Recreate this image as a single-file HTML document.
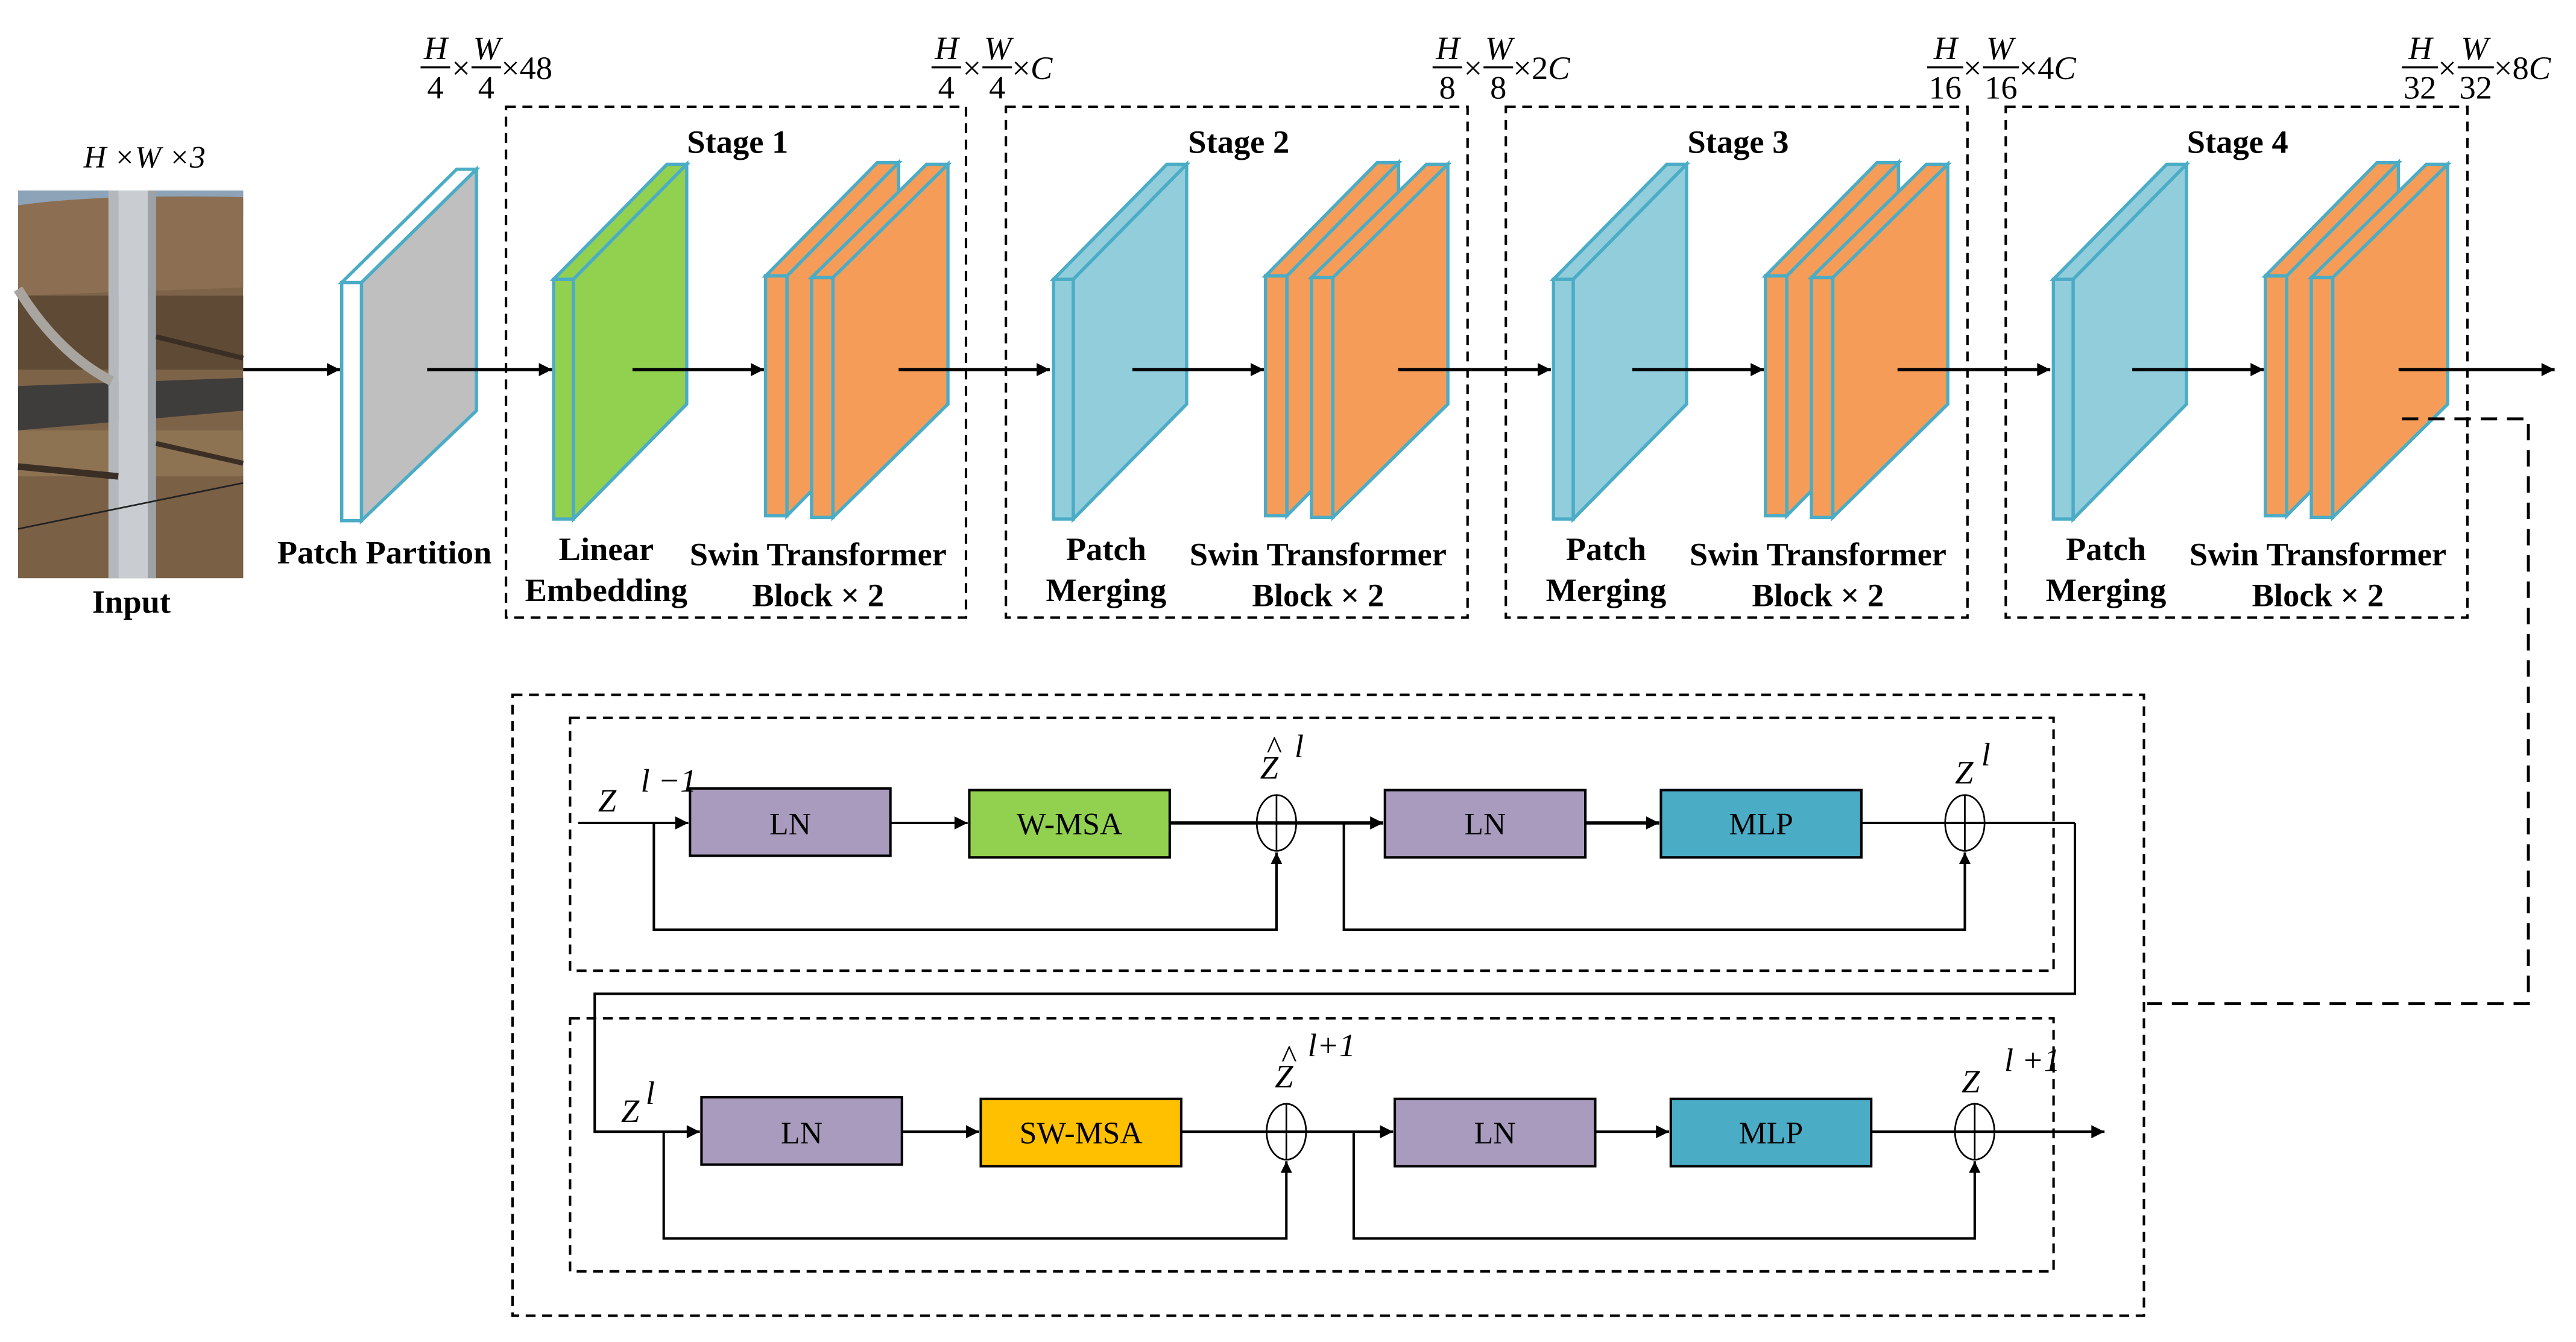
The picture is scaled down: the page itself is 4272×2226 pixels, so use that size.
<!DOCTYPE html>
<html><head><meta charset="utf-8"><style>
html,body{margin:0;padding:0;background:#fff}
svg{display:block}
svg text{font-family:"Liberation Serif","DejaVu Serif",serif}
.b{font-weight:bold;font-size:20px;fill:#000}
.r{font-size:19px;fill:#000}
.i{font-style:italic;font-size:19px;fill:#000}
.f{font-size:20px;fill:#000}
.fi{font-size:20px;font-style:italic;fill:#000}
</style></head><body>
<svg width="4272" height="2226" viewBox="0 0 1568 817" xmlns="http://www.w3.org/2000/svg" font-family="Liberation Serif, DejaVu Serif, serif">
<defs>
<marker id="a" viewBox="0 0 10 10" refX="10" refY="5" markerWidth="10" markerHeight="8" markerUnits="userSpaceOnUse" orient="auto"><path d="M0,0L10,5L0,10z" fill="#000"/></marker>
<marker id="s" viewBox="0 0 10 10" refX="10" refY="5" markerWidth="9" markerHeight="7" markerUnits="userSpaceOnUse" orient="auto"><path d="M0,0L10,5L0,10z" fill="#000"/></marker>
</defs>
<rect width="1568" height="817" fill="#fff"/>

<!-- Input photo -->
<g>
<rect x="11" y="116" width="137" height="236" fill="#7d6448"/>
<rect x="11" y="116" width="137" height="16" fill="#8da3b8"/>
<path d="M11,125 Q60,118 148,120 L148,175 L11,180z" fill="#8c6f52"/>
<rect x="11" y="180" width="137" height="45" fill="#5e4a35"/>
<path d="M11,235 L148,230 L148,250 L11,262z" fill="#3f3d3c"/>
<rect x="11" y="262" width="137" height="90" fill="#8d7352"/>
<rect x="11" y="290" width="137" height="62" fill="#7a6045"/>
<rect x="72" y="116" width="18" height="236" fill="#c9cdd1"/>
<rect x="66" y="116" width="6" height="236" fill="#b4b8bc"/>
<rect x="90" y="116" width="5" height="236" fill="#9da2a6"/>
<path d="M11,176 Q35,215 68,232" stroke="#a8a49f" stroke-width="6" fill="none"/>
<path d="M95,205 L148,218" stroke="#3a2e25" stroke-width="3" fill="none"/>
<path d="M11,284 L72,290" stroke="#3a2e25" stroke-width="4" fill="none"/>
<path d="M95,270 L148,282" stroke="#3a2e25" stroke-width="3" fill="none"/>
<path d="M11,322 L148,294" stroke="#222" stroke-width="1" fill="none"/>
</g>
<text class="i" x="88" y="102" text-anchor="middle">H ×W ×3</text>
<text class="b" x="80" y="373" text-anchor="middle">Input</text>

<!-- Patch partition -->
<polygon points="220,172 290,103 290,250 220,317" fill="#bfbfbf" stroke="#4bacc6" stroke-width="2"/>
<polygon points="208,172 278,103 290,103 220,172" fill="#fff" stroke="#4bacc6" stroke-width="2"/>
<rect x="208" y="172" width="12" height="145" fill="#fff" stroke="#4bacc6" stroke-width="2"/>
<text class="b" x="234" y="343" text-anchor="middle">Patch Partition</text>

<line x1="148" y1="225" x2="207" y2="225" stroke="#000" stroke-width="2" marker-end="url(#a)"/>
<line x1="260" y1="225" x2="336" y2="225" stroke="#000" stroke-width="2" marker-end="url(#a)"/>

<!-- dimension labels -->
<g>
<text class="fi" x="258" y="36">H</text><line x1="256" y1="41" x2="274" y2="41" stroke="#000" stroke-width="1.2"/><text class="f" x="260" y="60">4</text>
<text class="f" x="275" y="48">×</text>
<text class="fi" x="288" y="36">W</text><line x1="287" y1="41" x2="305" y2="41" stroke="#000" stroke-width="1.2"/><text class="f" x="291" y="60">4</text>
<text class="f" x="305" y="48">×48</text>
</g>
<g transform="translate(311,0)">
<text class="fi" x="258" y="36">H</text><line x1="256" y1="41" x2="274" y2="41" stroke="#000" stroke-width="1.2"/><text class="f" x="260" y="60">4</text>
<text class="f" x="275" y="48">×</text>
<text class="fi" x="288" y="36">W</text><line x1="287" y1="41" x2="305" y2="41" stroke="#000" stroke-width="1.2"/><text class="f" x="291" y="60">4</text>
<text class="f" x="305" y="48">×<tspan font-style="italic">C</tspan></text>
</g>
<g transform="translate(616,0)">
<text class="fi" x="258" y="36">H</text><line x1="256" y1="41" x2="274" y2="41" stroke="#000" stroke-width="1.2"/><text class="f" x="260" y="60">8</text>
<text class="f" x="275" y="48">×</text>
<text class="fi" x="288" y="36">W</text><line x1="287" y1="41" x2="305" y2="41" stroke="#000" stroke-width="1.2"/><text class="f" x="291" y="60">8</text>
<text class="f" x="305" y="48">×2<tspan font-style="italic">C</tspan></text>
</g>
<g transform="translate(917,0)">
<text class="fi" x="260" y="36">H</text><line x1="256" y1="41" x2="278" y2="41" stroke="#000" stroke-width="1.2"/><text class="f" x="257" y="60">16</text>
<text class="f" x="278" y="48">×</text>
<text class="fi" x="292" y="36">W</text><line x1="290" y1="41" x2="312" y2="41" stroke="#000" stroke-width="1.2"/><text class="f" x="291" y="60">16</text>
<text class="f" x="312" y="48">×4<tspan font-style="italic">C</tspan></text>
</g>
<g transform="translate(1206,0)">
<text class="fi" x="260" y="36">H</text><line x1="256" y1="41" x2="278" y2="41" stroke="#000" stroke-width="1.2"/><text class="f" x="257" y="60">32</text>
<text class="f" x="278" y="48">×</text>
<text class="fi" x="292" y="36">W</text><line x1="290" y1="41" x2="312" y2="41" stroke="#000" stroke-width="1.2"/><text class="f" x="291" y="60">32</text>
<text class="f" x="312" y="48">×8<tspan font-style="italic">C</tspan></text>
</g>

<!-- Stage 1 -->
<g>
<rect x="308" y="65" width="280" height="311" fill="none" stroke="#000" stroke-width="1.5" stroke-dasharray="6,4"/>
<text class="b" x="449" y="93" text-anchor="middle">Stage 1</text>
<polygon points="349,170 418,100 418,246 349,316" fill="#92d050" stroke="#4bacc6" stroke-width="2"/>
<polygon points="337,170 406,100 418,100 349,170" fill="#92d050" stroke="#4bacc6" stroke-width="2"/>
<rect x="337" y="170" width="12" height="146" fill="#92d050" stroke="#4bacc6" stroke-width="2"/>
<text class="b" x="369" y="341" text-anchor="middle">Linear</text>
<text class="b" x="369" y="366" text-anchor="middle">Embedding</text>
</g>
<g id="or">
<polygon points="479,168 547,99 547,245 479,314" fill="#f59d58" stroke="#4bacc6" stroke-width="2"/>
<polygon points="466,168 534,99 547,99 479,168" fill="#f59d58" stroke="#4bacc6" stroke-width="2"/>
<rect x="466" y="168" width="13" height="146" fill="#f59d58" stroke="#4bacc6" stroke-width="2"/>
<polygon points="507,169 577,100 577,246 507,315" fill="#f59d58" stroke="#4bacc6" stroke-width="2"/>
<polygon points="494,169 564,100 577,100 507,169" fill="#f59d58" stroke="#4bacc6" stroke-width="2"/>
<rect x="494" y="169" width="13" height="146" fill="#f59d58" stroke="#4bacc6" stroke-width="2"/>
<text class="b" x="498" y="344" text-anchor="middle">Swin Transformer</text>
<text class="b" x="498" y="369" text-anchor="middle">Block × 2</text>
<line x1="385" y1="225" x2="465" y2="225" stroke="#000" stroke-width="2" marker-end="url(#a)"/>
</g>
<line x1="547" y1="225" x2="639" y2="225" stroke="#000" stroke-width="2" marker-end="url(#a)"/>

<g id="st2" transform="translate(304.3,0)">
<rect x="308" y="65" width="281" height="311" fill="none" stroke="#000" stroke-width="1.5" stroke-dasharray="6,4"/>
<polygon points="349,170 418,100 418,246 349,316" fill="#92cddc" stroke="#4bacc6" stroke-width="2"/>
<polygon points="337,170 406,100 418,100 349,170" fill="#92cddc" stroke="#4bacc6" stroke-width="2"/>
<rect x="337" y="170" width="12" height="146" fill="#92cddc" stroke="#4bacc6" stroke-width="2"/>
<text class="b" x="369" y="341" text-anchor="middle">Patch</text>
<text class="b" x="369" y="366" text-anchor="middle">Merging</text>
<use href="#or"/>
</g>
<text class="b" x="754" y="93" text-anchor="middle">Stage 2</text>
<line x1="851" y1="225" x2="944" y2="225" stroke="#000" stroke-width="2" marker-end="url(#a)"/>
<use href="#st2" transform="translate(304.3,0)"/>
<text class="b" x="1058" y="93" text-anchor="middle">Stage 3</text>
<line x1="1155" y1="225" x2="1248" y2="225" stroke="#000" stroke-width="2" marker-end="url(#a)"/>
<use href="#st2" transform="translate(608.6,0)"/>
<text class="b" x="1362" y="93" text-anchor="middle">Stage 4</text>
<line x1="1460" y1="225" x2="1555" y2="225" stroke="#000" stroke-width="2" marker-end="url(#a)"/>
<polyline points="1462,255 1539,255 1539,611 1307,611" fill="none" stroke="#000" stroke-width="1.8" stroke-dasharray="10,6"/>

<!-- Lower detail -->
<rect x="312" y="423" width="993" height="378" fill="none" stroke="#000" stroke-width="1.5" stroke-dasharray="6,4"/>
<rect x="347" y="437" width="903" height="154" fill="none" stroke="#000" stroke-width="1.5" stroke-dasharray="6,4"/>
<rect x="347" y="620" width="903" height="154" fill="none" stroke="#000" stroke-width="1.5" stroke-dasharray="6,4"/>

<g stroke="#000" stroke-width="1.5">
<rect x="420" y="480" width="122" height="41" fill="#a99bbd"/>
<rect x="590" y="481" width="122" height="41" fill="#92d050"/>
<rect x="843" y="481" width="122" height="41" fill="#a99bbd"/>
<rect x="1011" y="481" width="122" height="41" fill="#4bacc6"/>
<line x1="352" y1="501" x2="419" y2="501" marker-end="url(#a)"/>
<line x1="542" y1="501" x2="589" y2="501" marker-end="url(#a)"/>
<line x1="712" y1="501" x2="842" y2="501" stroke-width="2" marker-end="url(#a)"/>
<line x1="965" y1="501" x2="1010" y2="501" stroke-width="2" marker-end="url(#a)"/>
<line x1="1133" y1="501" x2="1263" y2="501"/>
<ellipse cx="777" cy="501" rx="12" ry="17" fill="none" stroke-width="1"/>
<line x1="777" y1="484" x2="777" y2="518" stroke-width="1"/>
<ellipse cx="1196" cy="501" rx="12" ry="17" fill="none" stroke-width="1"/>
<line x1="1196" y1="484" x2="1196" y2="518" stroke-width="1"/>
<polyline points="398,501 398,566 777,566 777,519" fill="none" marker-end="url(#s)"/>
<polyline points="818,501 818,566 1196,566 1196,519" fill="none" marker-end="url(#s)"/>
<polyline points="1263,501 1263,605 362,605 362,689 426,689" fill="none" marker-end="url(#a)"/>
</g>
<text class="r" x="481" y="508" text-anchor="middle">LN</text>
<text class="r" x="651" y="508" text-anchor="middle">W-MSA</text>
<text class="r" x="904" y="508" text-anchor="middle">LN</text>
<text class="r" x="1072" y="508" text-anchor="middle">MLP</text>

<g stroke="#000" stroke-width="1.5">
<rect x="427" y="668" width="122" height="41" fill="#a99bbd"/>
<rect x="597" y="669" width="122" height="41" fill="#ffc000"/>
<rect x="849" y="669" width="122" height="41" fill="#a99bbd"/>
<rect x="1017" y="669" width="122" height="41" fill="#4bacc6"/>
<line x1="549" y1="689" x2="596" y2="689" marker-end="url(#a)"/>
<line x1="719" y1="689" x2="848" y2="689" marker-end="url(#a)"/>
<line x1="971" y1="689" x2="1016" y2="689" marker-end="url(#a)"/>
<line x1="1139" y1="689" x2="1281" y2="689" marker-end="url(#a)"/>
<ellipse cx="783" cy="689" rx="12" ry="17" fill="none" stroke-width="1"/>
<line x1="783" y1="672" x2="783" y2="706" stroke-width="1"/>
<ellipse cx="1202" cy="689" rx="12" ry="17" fill="none" stroke-width="1"/>
<line x1="1202" y1="672" x2="1202" y2="706" stroke-width="1"/>
<polyline points="404,689 404,754 783,754 783,707" fill="none" marker-end="url(#s)"/>
<polyline points="824,689 824,754 1202,754 1202,707" fill="none" marker-end="url(#s)"/>
</g>
<text class="r" x="488" y="696" text-anchor="middle">LN</text>
<text class="r" x="658" y="696" text-anchor="middle">SW-MSA</text>
<text class="r" x="910" y="696" text-anchor="middle">LN</text>
<text class="r" x="1078" y="696" text-anchor="middle">MLP</text>

<text class="fi" x="364" y="494" font-size="24">Z</text><text class="fi" x="390" y="482" font-size="15">l −1</text>
<text class="fi" x="767" y="474" font-size="24">Z</text><text class="f" x="771" y="462" font-size="18">^</text><text class="fi" x="788" y="461" font-size="16">l</text>
<text class="fi" x="1190" y="477" font-size="24">Z</text><text class="fi" x="1206" y="466" font-size="16">l</text>
<text class="fi" x="378" y="683" font-size="22">Z</text><text class="fi" x="393" y="672" font-size="15">l</text>
<text class="fi" x="776" y="662" font-size="24">Z</text><text class="f" x="780" y="650" font-size="18">^</text><text class="fi" x="796" y="643" font-size="15">l+1</text>
<text class="fi" x="1194" y="665" font-size="24">Z</text><text class="fi" x="1220" y="652" font-size="15">l +1</text>
</svg>
</body></html>
